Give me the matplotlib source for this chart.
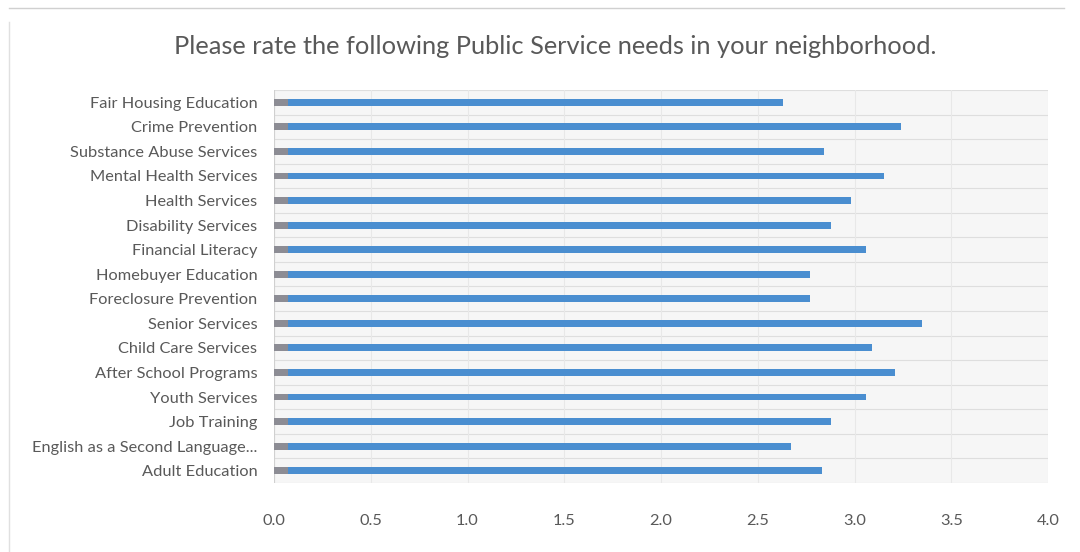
import numpy as np
import matplotlib
matplotlib.use('Agg')
import matplotlib.pyplot as plt

# service categories, bottom to top as drawn
services = ['Adult Education', 'English as a Second Language...', 'Job Training',
            'Youth Services', 'After School Programs', 'Child Care Services',
            'Senior Services', 'Foreclosure Prevention', 'Homebuyer Education',
            'Financial Literacy', 'Disability Services', 'Health Services',
            'Mental Health Services', 'Substance Abuse Services',
            'Crime Prevention', 'Fair Housing Education']
ratings = [2.83, 2.67, 2.88, 3.06, 3.21, 3.09, 3.35, 2.77, 2.77,
           3.06, 2.88, 2.98, 3.15, 2.84, 3.24, 2.63]
base_seg = [0.07] * len(services)   # short grey lead-in at the start of each bar
xticks = [0.0, 0.5, 1.0, 1.5, 2.0, 2.5, 3.0, 3.5, 4.0]

plt.rcParams['font.family'] = ['Lato', 'DejaVu Sans']

fig = plt.figure(figsize=(10.8, 5.52), dpi=100)
ax = fig.add_axes([0.2537, 0.125, 0.7167, 0.712])

y = np.arange(len(services))
ax.barh(y, ratings, height=0.28, color='#4a8ed0', zorder=3)
ax.barh(y, base_seg, height=0.28, color='#8c8c94', zorder=4)

# thin separators between rows
for k in range(len(services) + 1):
    ax.axhline(k - 0.5, color='#dedede', lw=0.8, zorder=1)

ax.set_xlim(0, 4.0)
ax.set_ylim(-0.5, len(services) - 0.5)
ax.set_facecolor('#f6f6f6')
ax.set_xticks(xticks)
ax.set_xticklabels(['%.1f' % t for t in xticks])
ax.set_yticks(y)
ax.set_yticklabels(services)
ax.xaxis.grid(True, color='#e8e8e8', lw=0.8, zorder=0)
ax.tick_params(axis='both', length=0, colors='#595959', labelsize=11.8)
ax.tick_params(axis='x', pad=22)
ax.tick_params(axis='y', pad=12)
for s in ax.spines.values():
    s.set_visible(False)
ax.axvline(0, color='#d0d0d0', lw=0.8, zorder=2)

fig.text(0.514, 0.915, 'Please rate the following Public Service needs in your neighborhood.',
         ha='center', va='center', fontsize=18.3, color='#595959')

# outer chart frame
fig.add_artist(plt.Line2D([0.008, 0.985], [0.985, 0.985], color='#d0d0d0', lw=1.0))
fig.add_artist(plt.Line2D([0.008, 0.008], [0.0, 0.96], color='#e0e0e0', lw=1.0))

fig.savefig('out.png', dpi=100, facecolor='white')
